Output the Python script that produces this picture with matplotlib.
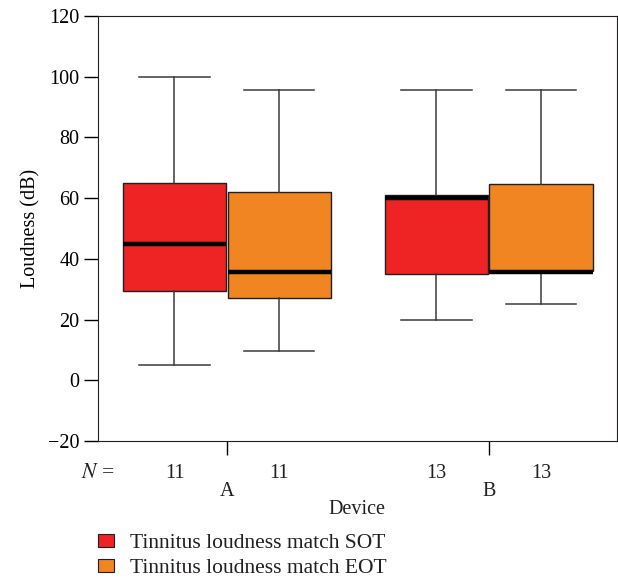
import matplotlib
matplotlib.use("Agg")
import matplotlib.pyplot as plt
from matplotlib.patches import Patch

plt.rcParams.update({
    "font.family": ["Liberation Serif", "DejaVu Serif"],
    "mathtext.fontset": "stix",
    "font.size": 15,
    "text.color": "#231f20",
    "axes.edgecolor": "#231f20",
})

devices = ["A", "B"]
series = ["Tinnitus loudness match SOT", "Tinnitus loudness match EOT"]
colors = ["#ee2324", "#f08522"]
n_counts = [[11, 11], [13, 13]]

# per device, per series: (whislo, q1, med, q3, whishi)
whislo = [[5, 9.5], [20, 25]]
q1 = [[29.5, 27], [35, 36]]
med = [[45, 35.5], [60, 35.5]]
q3 = [[65, 62], [61, 64.5]]
whishi = [[100, 95.5], [95.5, 95.5]]

FS = 14.5

fig = plt.figure(figsize=(6.18, 5.81), dpi=100)
ax = fig.add_axes([0.1586, 0.241, 0.8394, 0.7315])

offsets = [-0.2, 0.2]
width = 0.395
for gi, dev in enumerate(devices):
    for si in range(2):
        pos = gi + 1 + offsets[si]
        stats = [dict(whislo=whislo[gi][si], q1=q1[gi][si], med=med[gi][si],
                      q3=q3[gi][si], whishi=whishi[gi][si], fliers=[])]
        ax.bxp(stats, positions=[pos], widths=width, patch_artist=True,
               showfliers=False,
               boxprops=dict(facecolor=colors[si], edgecolor="#231f20", lw=1.0),
               medianprops=dict(color="black", lw=3.2, solid_capstyle="butt"),
               whiskerprops=dict(color="#3a3a3a", lw=1.1),
               capprops=dict(color="#3a3a3a", lw=1.1),
               capwidths=width * 0.68, manage_ticks=False)
        ax.text(pos, -0.077, str(n_counts[gi][si]), transform=ax.get_xaxis_transform(),
                ha="center", va="center", fontsize=FS)

ax.text(-0.032, -0.077, "$N$ =", transform=ax.transAxes,
        ha="left", va="center", fontsize=15.5)
for gi, dev in enumerate(devices):
    ax.text(gi + 1, -0.119, dev, transform=ax.get_xaxis_transform(),
            ha="center", va="center", fontsize=FS)

ax.set_xlim(0.508, 2.489)
ax.set_ylim(-20, 120)
ax.set_yticks(range(-20, 121, 20))
ax.set_yticklabels(["\u221220"] + [str(v) for v in range(0, 121, 20)])
ax.set_xticks([1, 2])
ax.set_xticklabels([])
ax.tick_params(axis="both", direction="out", length=10, width=1.0, labelsize=FS)
ax.set_ylabel("Loudness (dB)", fontsize=FS, labelpad=5)
ax.text(0.5, -0.162, "Device", transform=ax.transAxes, ha="center", va="center",
        fontsize=FS)

handles = [Patch(facecolor=c, edgecolor="#231f20", lw=0.8) for c in colors]
fig.legend(handles, series, loc="upper left", bbox_to_anchor=(98 / 618, 1 - 534 / 581),
           frameon=False, handlelength=0.75, handleheight=0.53, handletextpad=0.72,
           labelspacing=0.3, fontsize=15.5, borderaxespad=0, borderpad=0)

fig.savefig("out.png", dpi=100)
